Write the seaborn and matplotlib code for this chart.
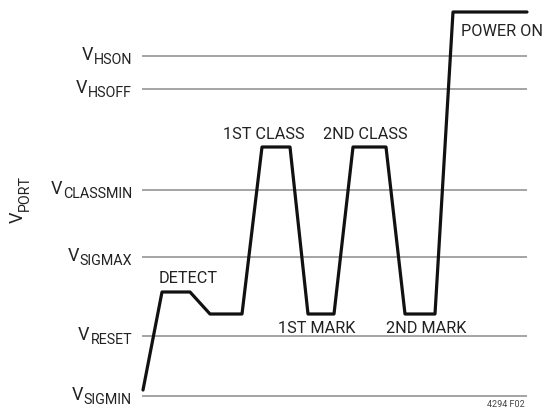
import numpy as np
import pandas as pd
import matplotlib
matplotlib.use('Agg')
import matplotlib.pyplot as plt
import seaborn as sns

# levels (arbitrary units, height above VSIGMIN)
level_names = ['HSON', 'HSOFF', 'CLASSMIN', 'SIGMAX', 'RESET', 'SIGMIN']
level_values = [340, 307, 206, 139, 60, 0]

# port voltage waveform (time, voltage)
wave_t = [1, 20, 48, 68, 100, 120, 148, 166, 192, 211, 244, 263, 293, 311, 385]
wave_v = [6, 104, 104, 82, 82, 249, 249, 82, 82, 249, 249, 82, 82, 384, 384]

# phase labels
phase_labels = ['DETECT', '1ST CLASS', '2ND CLASS', '1ST MARK', '2ND MARK']
phase_t = [46, 122, 223, 175, 284]
phase_v = [114, 258, 258, 64, 64]

t_end = 385

sns.set_style('white')
plt.rcParams['font.family'] = ['Roboto', 'Liberation Sans', 'DejaVu Sans']

fig = plt.figure(figsize=(5.48, 4.10), dpi=100)
ax = fig.add_axes([0, 0, 1, 1])

wave = pd.DataFrame({'t': wave_t, 'v': wave_v})

# reference levels
ax.hlines(level_values, 0, t_end, color='#8c8c8c', lw=1.1, zorder=1)

# waveform
sns.lineplot(data=wave, x='t', y='v', sort=False, estimator=None,
             color='#111111', lw=2.3, ax=ax, zorder=3)

# level labels: V + subscript
for name, lv in zip(level_names, level_values):
    sub = ax.annotate(name, xy=(-10, lv), xytext=(0, -5.2), textcoords='offset points',
                      ha='right', va='baseline', fontsize=10.3, color='#222222')
    ax.annotate('V', xy=(0, lv), xycoords=(sub, 'data'), xytext=(-0.5, -2.2),
                textcoords='offset points', ha='right', va='baseline',
                fontsize=13, color='#222222')

# y-axis title VPORT (rotated)
vt = ax.text(-124, 174, 'V', rotation=90, ha='center', va='bottom',
             fontsize=13, color='#222222')
ax.annotate('PORT', xy=(1, 1), xycoords=vt, xytext=(3.2, 0), textcoords='offset points',
            rotation=90, ha='right', va='bottom', fontsize=10.3, color='#222222')

for lab, x, y in zip(phase_labels, phase_t, phase_v):
    ax.text(x, y, lab, ha='center', va='baseline', fontsize=11.7, color='#222222')

ax.text(319, 361, 'POWER ON', ha='left', va='baseline', fontsize=11.7, color='#222222')
ax.text(383, -12.5, '4294 F02', ha='right', va='bottom', fontsize=6.5, color='#444444')

ax.set_xlim(-142, 406)
ax.set_ylim(-13, 397)
ax.set_axis_off()

fig.savefig('out.png', dpi=100)
